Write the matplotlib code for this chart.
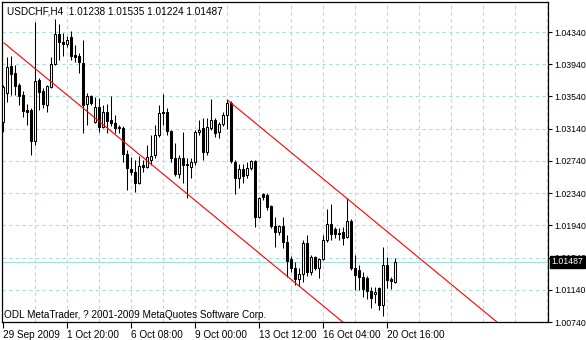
import matplotlib
matplotlib.use("Agg")
import matplotlib.pyplot as plt
import matplotlib.transforms as mtransforms
import numpy as np

plt.rcParams['font.family'] = ['Liberation Sans', 'DejaVu Sans']

symbol = "USDCHF,H4"
copyright_text = "ODL MetaTrader, ? 2001-2009 MetaQuotes Software Corp."

opens = [1.03223, 1.03583, 1.03918, 1.03831, 1.03682, 1.03558, 1.03371, 1.03371, 1.02987, 1.03744,
         1.03607, 1.03434, 1.03657, 1.03942, 1.04315, 1.04216, 1.04191, 1.04278, 1.04054, 1.04042,
         1.03955, 1.03446, 1.03545, 1.03223, 1.03409, 1.03160, 1.03347, 1.03247, 1.03210, 1.03160,
         1.03148, 1.02825, 1.02639, 1.02602, 1.02465, 1.02689, 1.02664, 1.02751, 1.02813, 1.03061,
         1.03347, 1.03347, 1.03111, 1.02776, 1.02577, 1.02776, 1.02701, 1.02664, 1.02726, 1.03098,
         1.03148, 1.02850, 1.03148, 1.03247, 1.03098, 1.03198, 1.03309, 1.03458, 1.02726, 1.02527,
         1.02639, 1.02565, 1.02651, 1.02738, 1.02043, 1.02329, 1.02316, 1.02180, 1.01931, 1.01857,
         1.01931, 1.01733, 1.01522, 1.01410, 1.01274, 1.01336, 1.01720, 1.01360, 1.01547, 1.01410,
         1.01522, 1.01758, 1.01956, 1.01894, 1.01845, 1.01857, 1.01795, 1.01994, 1.01410, 1.01385,
         1.01298, 1.01286, 1.01125, 1.01087, 1.01162, 1.00951, 1.01447, 1.01274, 1.01238]
highs = [1.03682, 1.04029, 1.04042, 1.03930, 1.03707, 1.03607, 1.03446, 1.03396, 1.04464, 1.03769,
         1.03645, 1.03682, 1.04029, 1.04501, 1.04439, 1.04327, 1.04290, 1.04352, 1.04178, 1.04079,
         1.04240, 1.03583, 1.03558, 1.03533, 1.03520, 1.03434, 1.03446, 1.03545, 1.03309, 1.03185,
         1.03173, 1.02875, 1.02788, 1.02751, 1.02800, 1.02751, 1.02937, 1.03061, 1.03185, 1.03434,
         1.03570, 1.03396, 1.03123, 1.02962, 1.02813, 1.03098, 1.02776, 1.02776, 1.03123, 1.03247,
         1.03272, 1.03272, 1.03508, 1.03272, 1.03223, 1.03347, 1.03496, 1.03483, 1.02751, 1.02701,
         1.02701, 1.02726, 1.02751, 1.02751, 1.02291, 1.02341, 1.02341, 1.02192, 1.02043, 1.01944,
         1.02043, 1.01820, 1.01559, 1.01485, 1.01410, 1.01758, 1.01820, 1.01571, 1.01559, 1.01534,
         1.01820, 1.02143, 1.02205, 1.01919, 1.01907, 1.01919, 1.02279, 1.02018, 1.01571, 1.01447,
         1.01360, 1.01311, 1.01174, 1.01174, 1.01174, 1.01671, 1.01547, 1.01298, 1.01535]
lows = [1.03098, 1.03471, 1.03558, 1.03558, 1.03434, 1.03285, 1.03185, 1.02813, 1.02937, 1.03371,
        1.03396, 1.03347, 1.03645, 1.03930, 1.03992, 1.04042, 1.04154, 1.03992, 1.03967, 1.03831,
        1.03086, 1.03185, 1.03434, 1.03210, 1.03098, 1.03148, 1.03086, 1.03173, 1.03086, 1.03086,
        1.02726, 1.02378, 1.02565, 1.02354, 1.02453, 1.02602, 1.02651, 1.02689, 1.02776, 1.03036,
        1.03185, 1.03061, 1.02726, 1.02552, 1.02527, 1.02465, 1.02279, 1.02527, 1.02689, 1.03061,
        1.02751, 1.02813, 1.03123, 1.03036, 1.03024, 1.03173, 1.03136, 1.02714, 1.02329, 1.02403,
        1.02465, 1.02527, 1.02627, 1.01919, 1.02031, 1.02254, 1.02130, 1.01907, 1.01671, 1.01820,
        1.01658, 1.01298, 1.01360, 1.01199, 1.01187, 1.01236, 1.01311, 1.01323, 1.01385, 1.01286,
        1.01509, 1.01733, 1.01758, 1.01783, 1.01758, 1.01696, 1.01783, 1.01385, 1.01137, 1.01137,
        1.01050, 1.01025, 1.00914, 1.00976, 1.00889, 1.00814, 1.01162, 1.01149, 1.01224]
closes = [1.03657, 1.03905, 1.03818, 1.03669, 1.03545, 1.03359, 1.03347, 1.02987, 1.03731, 1.03595,
          1.03446, 1.03669, 1.03942, 1.04315, 1.04216, 1.04191, 1.04240, 1.04042, 1.04029, 1.03967,
          1.03434, 1.03545, 1.03458, 1.03409, 1.03160, 1.03347, 1.03235, 1.03210, 1.03148, 1.03148,
          1.02825, 1.02651, 1.02602, 1.02465, 1.02676, 1.02664, 1.02788, 1.02800, 1.03061, 1.03334,
          1.03334, 1.03111, 1.02776, 1.02577, 1.02776, 1.02689, 1.02689, 1.02726, 1.03098, 1.03123,
          1.02850, 1.03160, 1.03247, 1.03086, 1.03198, 1.03309, 1.03458, 1.02738, 1.02527, 1.02639,
          1.02552, 1.02651, 1.02738, 1.02043, 1.02279, 1.02291, 1.02167, 1.01931, 1.01857, 1.01931,
          1.01733, 1.01497, 1.01410, 1.01274, 1.01336, 1.01720, 1.01360, 1.01547, 1.01410, 1.01522,
          1.01758, 1.01956, 1.01832, 1.01832, 1.01832, 1.01783, 1.01994, 1.01410, 1.01323, 1.01298,
          1.01149, 1.01125, 1.01038, 1.01112, 1.00951, 1.01447, 1.01261, 1.01249, 1.01487]

# time-axis labels (bar index, label)
date_bars = [0, 16, 32, 48, 64, 80, 96]
date_labels = ["29 Sep 2009", "1 Oct 20:00", "6 Oct 08:00", "9 Oct 00:00",
               "13 Oct 12:00", "16 Oct 04:00", "20 Oct 16:00"]
price_ticks = [1.00740, 1.01140, 1.01540, 1.01940, 1.02340, 1.02740,
               1.03140, 1.03540, 1.03940, 1.04340]
bid_price = 1.01487

# channel (two parallel lines), anchors as (bar, price)
chan_lower = [(0.17, 1.04204), (98.0, 1.00203)]
chan_upper = [(56.0, 1.03497), (136.0, 1.00225)]

W, H = 586, 340
fig = plt.figure(figsize=(W / 100, H / 100), dpi=100)
ax_l, ax_r, ax_t, ax_b = 2, 548, 2, 322
ax = fig.add_axes([ax_l / W, (H - ax_b) / H, (ax_r - ax_l) / W, (ax_b - ax_t) / H])

px_per_bar = 4.0
x0px = 3.3
ax.set_xlim((ax_l - x0px) / px_per_bar, (ax_r - x0px) / px_per_bar)
ppp = (1.04340 - 1.00740) / (322 - 32)
ax.set_ylim(1.00740, 1.04340 + (32 - ax_t) * ppp)

grid_col = '#a4e0e0'
# grid
for b in range(8, 137, 8):
    ax.axvline(b, color=grid_col, lw=0.8, ls=(0, (3.0, 3.0)), zorder=1)
for p in price_ticks:
    ax.axhline(p, color=grid_col, lw=0.8, ls=(0, (3.0, 3.0)), zorder=1)
ax.axhline(bid_price, color=grid_col, lw=0.9, zorder=1)

# candles
n = len(opens)
idx = np.arange(n)
o = np.array(opens); c = np.array(closes); hi = np.array(highs); lo = np.array(lows)
ax.vlines(idx, lo, hi, color='black', lw=0.75, zorder=3)
up = c >= o
bot = np.minimum(o, c)
hgt = np.maximum(np.abs(c - o), 0.00002)
ax.bar(idx[up], hgt[up], bottom=bot[up], width=0.5, facecolor='white',
       edgecolor='black', linewidth=0.75, zorder=4)
ax.bar(idx[~up], hgt[~up], bottom=bot[~up], width=0.5, facecolor='black',
       edgecolor='black', linewidth=0.75, zorder=4)

# channel lines
for line in (chan_lower, chan_upper):
    (xa, ya), (xb, yb) = line
    ax.plot([xa, xb], [ya, yb], color='red', lw=0.8, zorder=5, clip_on=True)

# axes styling
for s in ax.spines.values():
    s.set_color('black')
    s.set_linewidth(0.9)
ax.set_xticks(date_bars)
ax.set_xticklabels(date_labels)
for lab in ax.get_xticklabels():
    lab.set_horizontalalignment('left')
ax.tick_params(axis='x', direction='out', length=4, width=0.8, pad=1.5, labelsize=7.2)
ax.yaxis.tick_right()
ax.set_yticks(price_ticks)
ax.set_yticklabels([f"{p:.5f}" for p in price_ticks])
ax.tick_params(axis='y', direction='out', length=3, width=0.8, pad=1.2, labelsize=6.3)

# bid price label box
trans = mtransforms.blended_transform_factory(ax.transAxes, ax.transData)
ax.text(1.0 + 3.5 / (ax_r - ax_l), bid_price, f"{bid_price:.5f}", transform=trans,
        ha='left', va='center', fontsize=6.3, color='white', zorder=10, clip_on=False,
        bbox=dict(boxstyle='square,pad=0.2', facecolor='black', edgecolor='black'))

# header & copyright
fig.text(7 / W, 1 - 11 / H, f"{symbol}  {opens[-1]:.5f} {highs[-1]:.5f} {lows[-1]:.5f} {closes[-1]:.5f}",
         ha='left', va='center', fontsize=7.2, color='black')
fig.text(4 / W, 1 - 315 / H, copyright_text, ha='left', va='center', fontsize=7.2, color='black')

fig.savefig("out.png", dpi=100, facecolor='white')
